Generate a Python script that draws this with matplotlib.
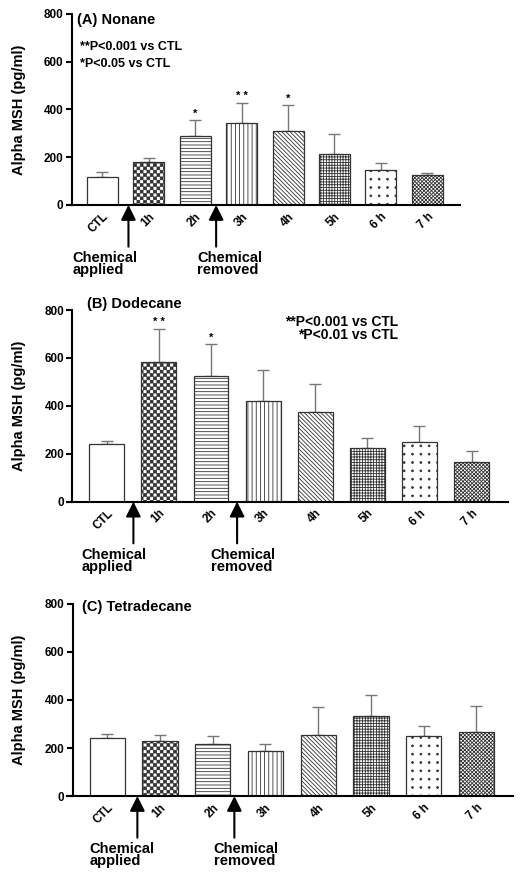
import numpy as np
import matplotlib
matplotlib.use("Agg")
import matplotlib.pyplot as plt
from matplotlib import hatch as mhatch
from matplotlib.path import Path

# data (mean and SEM, pg/ml)
labels = ["CTL", "1h", "2h", "3h", "4h", "5h", "6 h", "7 h"]

nonane_mean = [118, 179, 289, 343, 310, 215, 146, 125]
nonane_sem = [19, 16, 65, 85, 108, 83, 28, 10]
nonane_stars = ["", "", "*", "* *", "*", "", "", ""]

dodecane_mean = [239, 583, 525, 419, 373, 223, 250, 166]
dodecane_sem = [13, 139, 134, 129, 118, 41, 66, 44]
dodecane_stars = ["", "* *", "*", "", "", "", "", ""]

tetradecane_mean = [242, 228, 217, 189, 253, 332, 249, 268]
tetradecane_sem = [15, 26, 32, 26, 116, 87, 44, 106]
tetradecane_stars = [""] * 8


# custom hatches: 'o' -> checkerboard, 'O' -> aligned dot grid
class CheckerHatch(mhatch.HatchPatternBase):
    def __init__(self, hatch, density):
        self.n = hatch.count("o") * density
        self.cells = [(i, j) for i in range(self.n) for j in range(self.n) if (i + j) % 2 == 0]
        self.num_vertices = len(self.cells) * 5

    def set_vertices_and_codes(self, vertices, codes):
        s = 1.0 / self.n
        sq = np.array([[0, 0], [1, 0], [1, 1], [0, 1], [0, 0]]) * s * 0.82 + s * 0.09
        for k, (i, j) in enumerate(self.cells):
            vertices[k * 5:(k + 1) * 5] = sq + [i * s, j * s]
            codes[k * 5:(k + 1) * 5] = [Path.MOVETO, Path.LINETO, Path.LINETO,
                                        Path.LINETO, Path.CLOSEPOLY]


class DotHatch(mhatch.HatchPatternBase):
    def __init__(self, hatch, density):
        self.n = hatch.count("O") * density
        circ = Path.unit_circle()
        self.shape_v = circ.vertices
        self.shape_c = circ.codes
        self.num_vertices = self.n * self.n * len(self.shape_v)

    def set_vertices_and_codes(self, vertices, codes):
        s = 1.0 / self.n
        m = len(self.shape_v)
        k = 0
        for i in range(self.n):
            for j in range(self.n):
                vertices[k:k + m] = self.shape_v * 0.009 + [(i + 0.5) * s, (j + 0.5) * s]
                codes[k:k + m] = self.shape_c
                k += m


mhatch._hatch_types = [CheckerHatch if t is mhatch.SmallCircles else
                       DotHatch if t is mhatch.LargeCircles else t
                       for t in mhatch._hatch_types]

plt.rcParams["font.family"] = ["Liberation Sans", "DejaVu Sans"]
plt.rcParams["font.weight"] = "bold"
plt.rcParams["axes.labelweight"] = "bold"
plt.rcParams["hatch.linewidth"] = 0.6

hatches = [None, "ooooo", "-----", "||||", "\\" * 8, "++++++", "OO", "x" * 9]

fig = plt.figure(figsize=(5.25, 8.82), dpi=100)

panels = [
    ("(A) Nonane", nonane_mean, nonane_sem, nonane_stars,
     [0.1276, 0.7676, 0.748, 0.2166], (0.026, 0.969), [0.56, 2.45], [-0.64, 2.04]),
    ("(B) Dodecane", dodecane_mean, dodecane_sem, dodecane_stars,
     [0.1276, 0.4312, 0.840, 0.2173], (0.045, 1.03), [0.51, 2.5], [-0.49, 1.99]),
    ("(C) Tetradecane", tetradecane_mean, tetradecane_sem, tetradecane_stars,
     [0.1276, 0.0975, 0.850, 0.2177], (0.034, 0.984), [0.57, 2.41], [-0.34, 2.02]),
]

x = np.arange(len(labels))

for title, mean, sem, stars, rect, tpos, arrow_x, text_x in panels:
    ax = fig.add_axes(rect)
    ax.bar(x, mean, width=0.67, color="white", edgecolor="#333333",
           linewidth=0.9, hatch=hatches, zorder=2)
    ax.errorbar(x, mean, yerr=[np.zeros(len(sem)), sem], fmt="none",
                ecolor="#777777", elinewidth=1, capsize=4.5, capthick=1, zorder=1)
    for i in range(len(labels)):
        if stars[i]:
            ax.annotate(stars[i], (x[i], mean[i] + sem[i]), xytext=(0, 1),
                        textcoords="offset points", ha="center", va="bottom",
                        fontsize=8)

    ax.set_xlim(-0.765, 7.7)
    ax.set_ylim(0, 800)
    ax.spines["left"].set_position(("data", -0.66))
    ax.set_yticks([0, 200, 400, 600, 800])
    ax.set_xticks(x)
    ax.set_xticklabels(labels, rotation=45, ha="right", va="top",
                       rotation_mode="anchor", fontsize=8.5)
    ax.tick_params(axis="x", length=0, pad=4)
    ax.tick_params(axis="y", length=4, width=1.5, labelsize=8.5, pad=2)
    for s in ["top", "right"]:
        ax.spines[s].set_visible(False)
    for s in ["left", "bottom"]:
        ax.spines[s].set_linewidth(1.5)
    ax.set_ylabel("Alpha MSH (pg/ml)", fontsize=10.5, labelpad=13)

    ax.text(tpos[0], tpos[1], title, transform=ax.transAxes, fontsize=10.5,
            ha="left", va="center")

    for ax_x, tx, txt in zip(arrow_x, text_x, ["Chemical\napplied", "Chemical\nremoved"]):
        ax.annotate("", xy=(ax_x, 0), xycoords=("data", "axes fraction"),
                    xytext=(0, -30), textcoords="offset points",
                    arrowprops=dict(arrowstyle="-|>,head_length=0.6,head_width=0.3",
                                    mutation_scale=15, lw=1.5, color="black",
                                    shrinkA=0, shrinkB=0))
        ax.annotate(txt, xy=(tx, 0), xycoords=("data", "axes fraction"),
                    xytext=(0, -33), textcoords="offset points",
                    ha="left", va="top", fontsize=10.5, linespacing=0.85)

    if title.startswith("(A)"):
        ax.text(0.032, 0.827, "**P<0.001 vs CTL", transform=ax.transAxes,
                fontsize=9, va="center")
        ax.text(0.032, 0.738, "*P<0.05 vs CTL", transform=ax.transAxes,
                fontsize=9, va="center")
    if title.startswith("(B)"):
        ax.text(0.75, 0.903, "**P<0.001 vs CTL\n*P<0.01 vs CTL", transform=ax.transAxes,
                fontsize=10, va="center", ha="right", multialignment="right",
                linespacing=0.9)

fig.savefig("out.png", dpi=100)
